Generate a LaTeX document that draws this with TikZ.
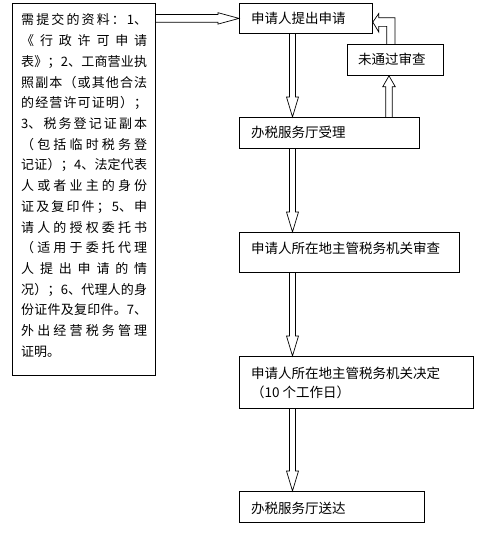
\documentclass[tikz,border=0pt]{standalone}
\usepackage{fontspec}
\setmainfont{Noto Sans CJK SC}
\usetikzlibrary{calc}
\newcommand\jl[1]{\hbox to 126pt{\jlx#1\relax}}
\def\jlx#1{#1\futurelet\jlnext\jlxcheck}
\def\jlxcheck{\ifx\jlnext\relax\expandafter\jlgobble\else\hfil\expandafter\jlx\fi}
\def\jlgobble#1{}
\tikzset{
  box/.style={draw, line width=0.8pt, inner sep=0pt, anchor=north west},
  harrow/.style={draw, line width=0.7pt, line join=miter},
  txt/.style={inner sep=0pt, anchor=west, font=\fontsize{13.5}{16}\selectfont},
  ltxt/.style={inner sep=0pt, anchor=base west, font=\fontsize{13}{16}\selectfont}
}
\begin{document}
\begin{tikzpicture}[x=1pt,y=-1pt]
\useasboundingbox (0,0) rectangle (491,540);
\fill[white] (0,0) rectangle (491,540);
% boxes
\node[box, minimum width=143pt, minimum height=372pt] (req) at (12,3) {};
\node[box, minimum width=133pt, minimum height=30pt] (b1) at (239,3) {};
\node[box, minimum width=96pt, minimum height=31pt] (nr) at (347,44) {};
\node[box, minimum width=180pt, minimum height=31pt] (b2) at (239,117) {};
\node[box, minimum width=220pt, minimum height=40pt] (b3) at (239,232) {};
\node[box, minimum width=234pt, minimum height=52pt] (b4) at (239,356) {};
\node[box, minimum width=185pt, minimum height=31pt] (b5) at (239,491) {};
% texts
\node[txt] (t1) at ($(b1.north west)+(12,15)$) {申请人提出申请};
\node[txt] (tnr) at ($(nr.north west)+(11,15.5)$) {未通过审查};
\node[txt] (t2) at ($(b2.north west)+(12,15)$) {办税服务厅受理};
\node[txt] (t3) at ($(b3.north west)+(12,16)$) {申请人所在地主管税务机关审查};
\node[txt] (t4a) at ($(b4.north west)+(12,17)$) {申请人所在地主管税务机关决定};
\node[txt] (t4b) at ($(b4.north west)+(12,36)$) {（10 个工作日）};
\node[txt] (t5) at ($(b5.north west)+(12,17)$) {办税服务厅送达};
% left box text
\foreach \t [count=\k from 0] in {
  {需提交的资料：{1、}},
  {《行政许可申请},
  {表》；{2、}工商营业执},
  {照副本（或其他合法},
  {的经营许可证明）；},
  {{3、}税务登记证副本},
  {（包括临时税务登},
  {记证）；{4、}法定代表},
  {人或者业主的身份},
  {证及复印件；{5、}申},
  {请人的授权委托书},
  {（适用于委托代理},
  {人提出申请的情},
  {况）；{6、}代理人的身},
  {份证件及复印件。{7、}},
  {外出经营税务管理}}
  {\node[ltxt] (r\k) at (21,25+20.7*\k) {\expandafter\jl\expandafter{\t}};}
\node[ltxt] (r16) at (21,356.2) {证明。};
% down arrows
\foreach \a/\b in {b1/b2, b2/b3, b3/b4, b4/b5} {
  \coordinate (s) at ($(\a.south west)+(53.5,0)$);
  \coordinate (e) at ($(\b.north west)+(53.5,0)$);
  \draw[harrow] ($(s)+(-3,0)$) -- ($(e)+(-3,-20)$) -- ($(e)+(-6,-20)$) -- (e)
     -- ($(e)+(6,-20)$) -- ($(e)+(3,-20)$) -- ($(s)+(3,0)$);
}
% up arrow b2 -> nr
\coordinate (us) at ($(b2.north west)+(150,0)$);
\coordinate (ue) at ($(nr.south west)+(42,0)$);
\draw[harrow] ($(us)+(-3.3,0)$) -- ($(ue)+(-3.3,11)$) -- ($(ue)+(-6.3,11)$) -- (ue)
   -- ($(ue)+(6.3,11)$) -- ($(ue)+(3.3,11)$) -- ($(us)+(3.3,0)$);
% elbow arrow nr -> b1
\coordinate (t) at ($(b1.east)+(0,3.7)$);
\coordinate (tl) at ($(t)+(0,4.3)$);
\coordinate (tu) at ($(t)+(0,-4.4)$);
\coordinate (n1) at ($(nr.north west)+(39.7,0)$);
\coordinate (n2) at ($(nr.north west)+(48,0)$);
\draw[harrow] (n1) -- (n1 |- tl) -- ($(t)+(6,4.3)$) -- ($(t)+(6,10)$) -- (t)
   -- ($(t)+(6,-8.7)$) -- ($(t)+(6,-4.4)$) -- (n2 |- tu) -- (n2);
% horizontal arrow req -> b1
\coordinate (hs) at (req.east |- b1.west);
\draw[harrow] ($(hs)+(0,-3.8)$) -- ($(b1.west)+(-21,-3.8)$) -- ($(b1.west)+(-21,-5.7)$) -- (b1.west)
   -- ($(b1.west)+(-21,5.7)$) -- ($(b1.west)+(-21,3.8)$) -- ($(hs)+(0,3.8)$);
\end{tikzpicture}
\end{document}
